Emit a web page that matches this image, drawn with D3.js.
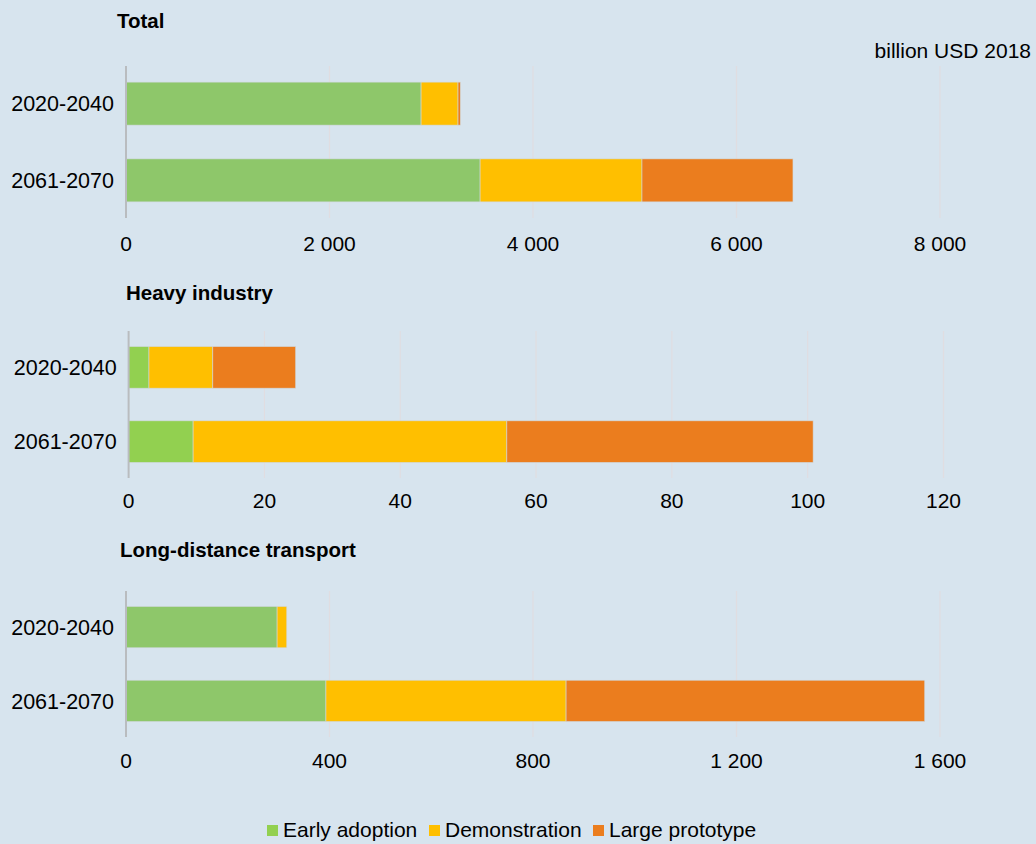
<!DOCTYPE html>
<html>
<head>
<meta charset="utf-8">
<script src="https://cdn.jsdelivr.net/npm/d3@7"></script>
<style>
  body { margin: 0; background: #d7e4ee; }
  svg { display: block; font-family: "Liberation Sans", Arial, sans-serif; }
</style>
</head>
<body>
<svg id="chart" width="1036" height="844"></svg>
<script>
// data (billion USD 2018)
var periods = ["2020-2040", "2061-2070"];
var stages = ["Early adoption", "Demonstration", "Large prototype"];

var totalEarly = [2900, 3480];
var totalDemo = [363, 1591];
var totalLarge = [23, 1484];

var heavyEarly = [3.0, 9.5];
var heavyDemo = [9.4, 46.2];
var heavyLarge = [12.2, 45.1];

var transportEarly = [297, 393];
var transportDemo = [19, 472];
var transportLarge = [0, 705];

var totalTicks = [0, 2000, 4000, 6000, 8000];
var heavyTicks = [0, 20, 40, 60, 80, 100, 120];
var transportTicks = [0, 400, 800, 1200, 1600];

var colors = ["#8ec76a", "#ffbf00", "#eb7d1e"];
var legendColors = ["#92d050", "#ffbf00", "#eb7d1e"];

var svg = d3.select("#chart");
var fmt = function(d) { return d3.format(",")(d).replace(/,/g, " "); };

function drawPanel(cfg) {
  var x = d3.scaleLinear()
            .domain([0, cfg.ticks[cfg.ticks.length - 1]])
            .range([cfg.x0, cfg.x1]);
  var y = d3.scaleBand()
            .domain(periods)
            .range([cfg.top, cfg.bottom])
            .paddingInner(0.44)
            .paddingOuter(0.21);

  var g = svg.append("g");

  //title
  g.append("text")
   .attr("x", cfg.titleX)
   .attr("y", cfg.titleY)
   .attr("font-size", 20.5)
   .attr("font-weight", "bold")
   .text(cfg.title);

  //gridlines
  g.selectAll("line.grid")
   .data(cfg.ticks.slice(1))
   .enter()
   .append("line")
   .attr("x1", function(d) { return x(d); })
   .attr("x2", function(d) { return x(d); })
   .attr("y1", cfg.top)
   .attr("y2", cfg.bottom)
   .attr("stroke", "#e0dde1")
   .attr("stroke-width", 1.2);

  //stacked bars
  var rows = periods.map(function(p, i) {
    return { period: p, early: cfg.series[0][i], demo: cfg.series[1][i], large: cfg.series[2][i] };
  });
  var stack = d3.stack().keys(["early", "demo", "large"]);
  var layers = stack(rows);

  g.selectAll("g.layer")
   .data(layers)
   .enter()
   .append("g")
   .attr("fill", function(d, i) { return cfg.colors[i]; })
   .selectAll("rect")
   .data(function(d) { return d; })
   .enter()
   .append("rect")
   .attr("x", function(d) { return x(d[0]); })
   .attr("y", function(d) { return y(d.data.period); })
   .attr("width", function(d) { return x(d[1]) - x(d[0]); })
   .attr("height", y.bandwidth())
   .attr("stroke", "#d0d8dd")
   .attr("stroke-width", 0.6)
   .attr("stroke-opacity", function(d) { return d[1] > d[0] ? 1 : 0; });

  //left axis line
  g.append("line")
   .attr("x1", cfg.x0)
   .attr("x2", cfg.x0)
   .attr("y1", cfg.top)
   .attr("y2", cfg.bottom)
   .attr("stroke", "#b9bcbf")
   .attr("stroke-width", 2);

  //category labels
  g.selectAll("text.cat")
   .data(periods)
   .enter()
   .append("text")
   .attr("x", cfg.x0 - 12)
   .attr("y", function(d) { return y(d) + y.bandwidth() / 2; })
   .attr("dy", "0.36em")
   .attr("text-anchor", "end")
   .attr("font-size", 21.5)
   .text(function(d) { return d; });

  //tick labels
  g.selectAll("text.tick")
   .data(cfg.ticks)
   .enter()
   .append("text")
   .attr("x", function(d) { return x(d); })
   .attr("y", cfg.tickY)
   .attr("text-anchor", "middle")
   .attr("font-size", 21)
   .text(fmt);
}

drawPanel({
  title: "Total", titleX: 117, titleY: 28,
  x0: 126, x1: 940, top: 66, bottom: 218, tickY: 251,
  ticks: totalTicks, series: [totalEarly, totalDemo, totalLarge], colors: colors
});

drawPanel({
  title: "Heavy industry", titleX: 126, titleY: 300,
  x0: 128.6, x1: 943.5, top: 331, bottom: 478, tickY: 508,
  ticks: heavyTicks, series: [heavyEarly, heavyDemo, heavyLarge], colors: legendColors
});

drawPanel({
  title: "Long-distance transport", titleX: 120, titleY: 557,
  x0: 126, x1: 940, top: 591, bottom: 737, tickY: 768,
  ticks: transportTicks, series: [transportEarly, transportDemo, transportLarge], colors: colors
});

//unit label
svg.append("text")
   .attr("x", 1031)
   .attr("y", 58)
   .attr("text-anchor", "end")
   .attr("font-size", 21)
   .text("billion USD 2018");

//legend
var legendX = [267, 429, 593];
var legend = svg.selectAll("g.legend")
                .data(stages)
                .enter()
                .append("g")
                .attr("transform", function(d, i) { return "translate(" + legendX[i] + ",825)"; });

legend.append("rect")
      .attr("width", 11)
      .attr("height", 11)
      .attr("fill", function(d, i) { return legendColors[i]; });

legend.append("text")
      .attr("x", 16)
      .attr("y", 12)
      .attr("font-size", 21)
      .text(function(d) { return d; });
</script>
</body>
</html>
